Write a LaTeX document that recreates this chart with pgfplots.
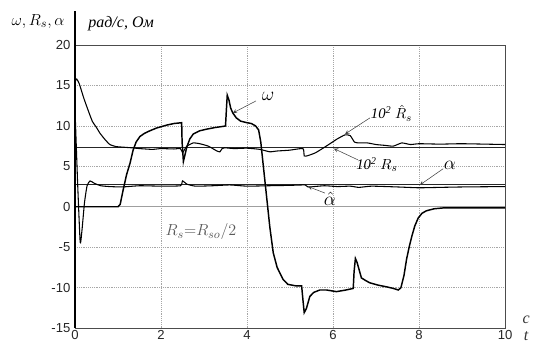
\documentclass[border=0pt]{standalone}
\usepackage{fontspec}
\setmainfont{Liberation Serif}
\newfontfamily\arial{Liberation Sans}
\usepackage{pgfplots}
\pgfplotsset{compat=1.18}
\begin{document}
\begin{tikzpicture}[x=1pt,y=1pt]
\useasboundingbox (0,0) rectangle (400,256.2);
\begin{axis}[
  at={(56.2pt,10.5pt)}, anchor=south west,
  scale only axis, width=322.1pt, height=211.9pt,
  xmin=0, xmax=10, ymin=-15, ymax=20,
  xtick={0,2,...,10}, ytick={-15,-10,...,20},
  grid=major, major grid style={densely dotted, gray!70, line width=0.5pt},
  axis line style={black!70, line width=0.6pt},
  tick style={draw=none},
  /pgf/number format/assume math mode=true,
  tick label style={font=\arial\fontsize{9.8}{11}\selectfont, black!85},
  xticklabel style={yshift=2pt},
  clip=false,
]
% zero line and true values
\addplot[gray!75, line width=0.6pt] coordinates {(0,0) (10,0)};
\addplot[black!85, line width=0.7pt] coordinates {(0,7.3) (10,7.3)};
\addplot[black!85, line width=0.7pt] coordinates {(0,2.7) (10,2.7)};
% estimated R_s (x100)
\addplot[black, line width=0.8pt, smooth, tension=0.3] coordinates {
(0,15.5)(0.04,15.8)(0.1,15.2)(0.2,13.5)(0.28,12.3)(0.4,10.6)(0.5,9.8)(0.58,9.1)
(0.7,8.3)(0.81,7.7)(0.95,7.45)(1.05,7.4)(1.3,7.3)(1.5,7.2)(1.8,7.1)(2.0,7.2)
(2.3,7.15)(2.45,7.2)(2.5,6.7)(2.55,7.1)(2.6,7.5)(2.75,7.9)(2.9,7.8)(3.1,7.5)
(3.3,6.9)(3.37,6.8)(3.42,7.2)(3.48,7.3)(3.7,7.2)(4.0,7.25)(4.3,7.1)(4.53,6.8)
(4.7,6.9)(4.99,7.0)(5.3,7.2)(5.33,6.3)(5.4,6.3)(5.6,6.7)(5.9,7.7)(6.1,8.4)
(6.28,8.9)(6.4,8.8)(6.5,8.0)(6.6,7.9)(6.8,7.9)(7.0,7.7)(7.2,7.6)(7.4,7.5)
(7.6,7.9)(7.8,7.7)(8.0,7.8)(8.5,7.75)(9.0,7.8)(10,7.7)};
% estimated alpha
\addplot[black, line width=0.8pt, smooth, tension=0.3] coordinates {
(0,12)(0.06,3)(0.12,-4.4)(0.16,-3)(0.22,0.5)(0.28,2.6)(0.35,3.2)(0.45,2.9)
(0.6,2.6)(0.8,2.5)(1.1,2.45)(1.5,2.6)(2.0,2.55)(2.45,2.6)(2.5,3.2)(2.6,2.8)
(2.8,2.55)(3.2,2.6)(3.6,2.7)(4.0,2.55)(4.5,2.6)(5.0,2.65)(5.35,2.7)(5.42,2.45)
(5.8,2.6)(6.1,2.5)(6.4,2.55)(6.6,2.4)(6.9,2.55)(7.5,2.45)(8.0,2.35)(8.5,2.4)
(9,2.45)(10,2.5)};
% omega
\addplot[black, line width=1.1pt] coordinates {
(0,0)(1.0,0)(1.05,0.3)(1.12,2.1)(1.2,4)(1.28,5.4)(1.35,7)(1.42,8)(1.51,8.7)
(1.62,9.1)(1.74,9.4)(1.9,9.75)(2.13,10.1)(2.3,10.3)(2.48,10.4)(2.49,8)(2.52,5.6)
(2.56,6.5)(2.6,7.4)(2.67,8.4)(2.75,9.0)(2.9,9.4)(3.06,9.6)(3.25,9.8)(3.45,9.95)
(3.5,10)(3.52,12)(3.54,13.8)(3.58,13.2)(3.62,12.2)(3.67,11.6)(3.75,11.0)
(3.85,10.6)(4.0,10.4)(4.1,10.3)(4.2,10.0)(4.27,9.5)(4.32,8)(4.38,5)(4.45,1.5)
(4.53,-2.5)(4.61,-5.7)(4.7,-7.5)(4.84,-9)(4.95,-9.6)(5.15,-9.8)(5.27,-9.8)
(5.3,-11.5)(5.33,-13.1)(5.38,-12.6)(5.46,-11.1)(5.55,-10.6)(5.69,-10.3)
(5.85,-10.3)(6.08,-10.5)(6.3,-10.3)(6.47,-10.1)(6.49,-8)(6.52,-6.4)(6.56,-6.9)
(6.66,-8.8)(6.75,-9.1)(6.85,-9.4)(7.05,-9.7)(7.24,-9.9)(7.4,-10.1)(7.52,-10.3)
(7.58,-10.0)(7.65,-8.5)(7.71,-6.5)(7.77,-5.0)(7.83,-3.7)(7.9,-2.4)(7.98,-1.4)
(8.07,-0.8)(8.17,-0.5)(8.35,-0.25)(8.55,-0.15)(10,-0.15)};
% thick left axis extended upwards
\draw[black, line width=1.3pt] (axis cs:0,-15) -- (axis cs:0,24.2);
% labels outside
\node[font=\fontsize{12.5}{14}\selectfont] at (axis cs:-0.86,22.9) {$\omega,R_s,\alpha$};
\node[anchor=west, font=\itshape\fontsize{12}{14}\selectfont] at (axis cs:0.2,22.7) {рад/с, Ом};
\node[font=\itshape\fontsize{12}{14}\selectfont, black!80] at (axis cs:10.49,-14.0) {c};
\node[font=\itshape\fontsize{12}{14}\selectfont, black!80] at (axis cs:10.49,-16.0) {t};
% annotations
\node[font=\fontsize{14}{15}\selectfont] at (axis cs:4.49,13.6) {$\omega$};
\draw[-stealth, black!75, line width=0.4pt] (axis cs:4.21,13.1) -- (axis cs:3.67,11.6);
\node[font=\fontsize{11}{13}\selectfont] at (axis cs:7.36,11.6) {\textit{10\textsuperscript{2}}\hspace{0.25em}$\hat{R}_s$};
\draw[-stealth, black!75, line width=0.4pt] (axis cs:6.86,11.0) -- (axis cs:6.28,9.0);
\node[font=\fontsize{11}{13}\selectfont] at (axis cs:7.02,5.2) {\textit{10\textsuperscript{2}}\hspace{0.25em}$R_s$};
\draw[-stealth, black!75, line width=0.4pt] (axis cs:6.58,5.8) -- (axis cs:6.02,7.2);
\node[font=\fontsize{14}{15}\selectfont] at (axis cs:8.72,5.1) {$\alpha$};
\draw[-stealth, black!75, line width=0.4pt] (axis cs:8.56,4.7) -- (axis cs:8.02,2.7);
\node[font=\fontsize{14}{15}\selectfont] at (axis cs:5.93,1.0) {$\hat{\alpha}$};
\draw[-stealth, black!75, line width=0.4pt] (axis cs:5.81,1.7) -- (axis cs:5.42,2.5);
\node[font=\fontsize{13}{15}\selectfont, black!65] at (axis cs:2.93,-3.1) {$R_s{=}R_{so}/2$};
\end{axis}
\end{tikzpicture}
\end{document}
